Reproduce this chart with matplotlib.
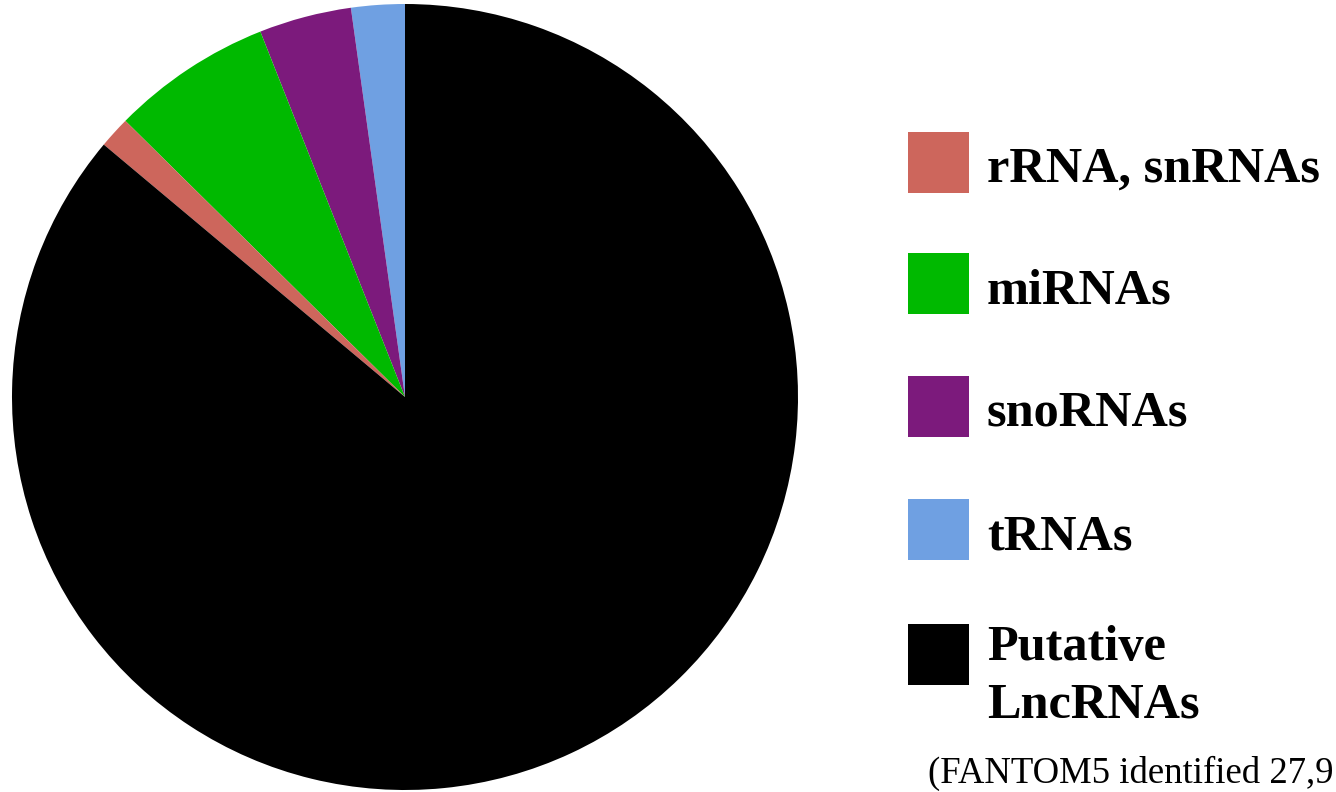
import matplotlib
matplotlib.use("Agg")
import matplotlib.pyplot as plt
from matplotlib.patches import Rectangle

# Data (counterclockwise from 12 o'clock)
pie_labels = ["tRNAs", "snoRNAs", "miRNAs", "rRNA, snRNAs", "Putative\nLncRNAs"]
pie_values = [2.2, 3.8, 6.6, 1.3, 86.1]
pie_colors = ["#6FA0E2", "#7C1A7C", "#00B900", "#CD665C", "#000000"]

legend_labels = ["rRNA, snRNAs", "miRNAs", "snoRNAs", "tRNAs", "Putative\nLncRNAs"]
legend_colors = ["#CD665C", "#00B900", "#7C1A7C", "#6FA0E2", "#000000"]
caption = "(FANTOM5 identified 27,9"

W, H = 1336, 792
fig = plt.figure(figsize=(W / 100, H / 100), dpi=100)
fig.patch.set_facecolor("white")

cx, cy, r = 405, 397, 393
ax = fig.add_axes([(cx - r) / W, (H - cy - r) / H, 2 * r / W, 2 * r / H])
ax.pie(pie_values, colors=pie_colors, startangle=90, counterclock=True,
       radius=1.0, wedgeprops=dict(linewidth=0))
ax.set_xlim(-1, 1)
ax.set_ylim(-1, 1)
ax.set_aspect("equal")
ax.axis("off")

font = "Liberation Serif"
sq = 61
centers = [162, 284, 406, 529, 654]
for lab, col, yc in zip(legend_labels, legend_colors, centers):
    fig.add_artist(Rectangle(((908) / W, (H - yc - sq / 2) / H), sq / W, sq / H,
                             transform=fig.transFigure, facecolor=col,
                             edgecolor="none"))
    lines = lab.split("\n")
    if len(lines) == 1:
        fig.text(987 / W, (H - (yc + 20)) / H, lab, fontsize=36.3, fontweight="bold",
                 family=font, ha="left", va="baseline", color="black")
    else:
        for i, ln in enumerate(lines):
            fig.text(987 / W, (H - (yc + 6 + 57 * i)) / H, ln, fontsize=36.3,
                     fontweight="bold", family=font, ha="left", va="baseline",
                     color="black")

fig.text(928 / W, (H - 783) / H, caption, fontsize=26.5, family=font,
         ha="left", va="baseline", color="black")

fig.savefig("out.png", dpi=100, facecolor="white")
